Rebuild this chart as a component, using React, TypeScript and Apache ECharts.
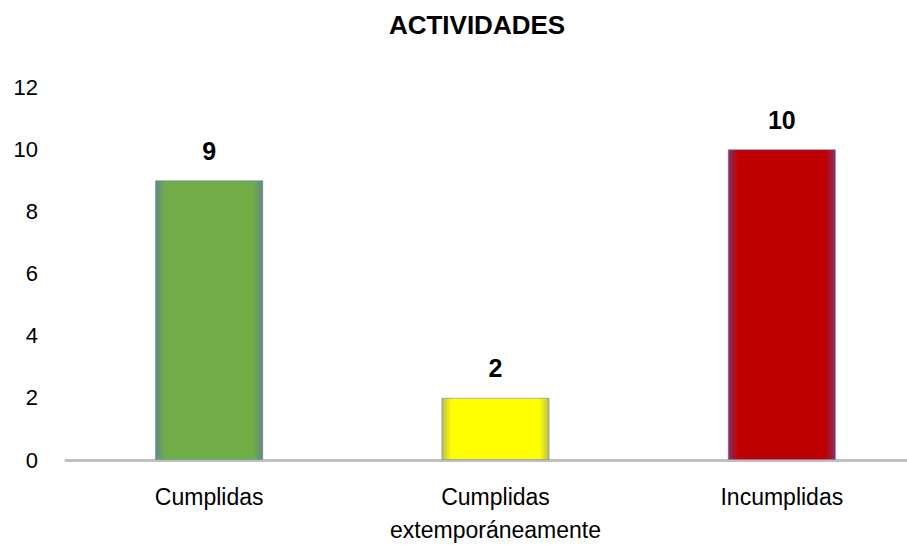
import React, { useEffect, useRef } from "react";
import * as echarts from "echarts";

const categories = ["Cumplidas", "Cumplidas\nextemporáneamente", "Incumplidas"];
const values = [9, 2, 10];
const barColors = ["#70ad47", "#ffff00", "#c00000"];
const barEdgeColors = ["#5f8a86", "#b9bd55", "#86306a"];
const yTicks = { min: 0, max: 12, interval: 2 };

export default function App() {
  const ref = useRef<HTMLDivElement>(null);
  useEffect(() => {
    const chart = echarts.init(ref.current!, null, { renderer: "svg" });
    const font = "'Liberation Sans', Arial, sans-serif";
    chart.setOption({
      animation: false,
      backgroundColor: "#ffffff",
      title: {
        text: "ACTIVIDADES",
        left: 472,
        textAlign: "center",
        top: 7,
        textStyle: { fontFamily: font, fontWeight: "bold", fontSize: 26, color: "#000" },
      },
      grid: { left: 66, width: 859, top: 87, bottom: 85, outerBoundsMode: "none", containLabel: false },
      xAxis: {
        type: "category",
        data: categories,
        axisLine: { show: true, lineStyle: { color: "#bfbfbf", width: 3 } },
        axisTick: { show: false },
        axisLabel: { color: "#000", fontSize: 23, fontFamily: font, margin: 20, lineHeight: 33 },
      },
      yAxis: {
        type: "value",
        min: yTicks.min,
        max: yTicks.max,
        interval: yTicks.interval,
        splitLine: { show: false },
        axisLine: { show: false },
        axisTick: { show: false },
        axisLabel: { color: "#000", fontSize: 22, fontFamily: font, margin: 28 },
      },
      series: [
        {
          type: "bar",
          barWidth: "37.8%",
          data: values.map((v, i) => ({
            value: v,
            itemStyle: {
              color: new echarts.graphic.LinearGradient(0, 0, 1, 0, [
                { offset: 0, color: barEdgeColors[i] },
                { offset: 0.09, color: barColors[i] },
                { offset: 0.91, color: barColors[i] },
                { offset: 1, color: barEdgeColors[i] },
              ]),
              borderColor: "rgba(110,130,190,0.55)",
              borderWidth: 1,
            },
          })),
          label: {
            show: true,
            position: "top",
            distance: 17,
            color: "#000",
            fontSize: 25,
            fontWeight: "bold",
            fontFamily: font,
          },
        },
      ],
    });
    return () => chart.dispose();
  }, []);
  return <div ref={ref} style={{ position: "absolute", left: 0, top: 0, width: 907, height: 545 }} />;
}
